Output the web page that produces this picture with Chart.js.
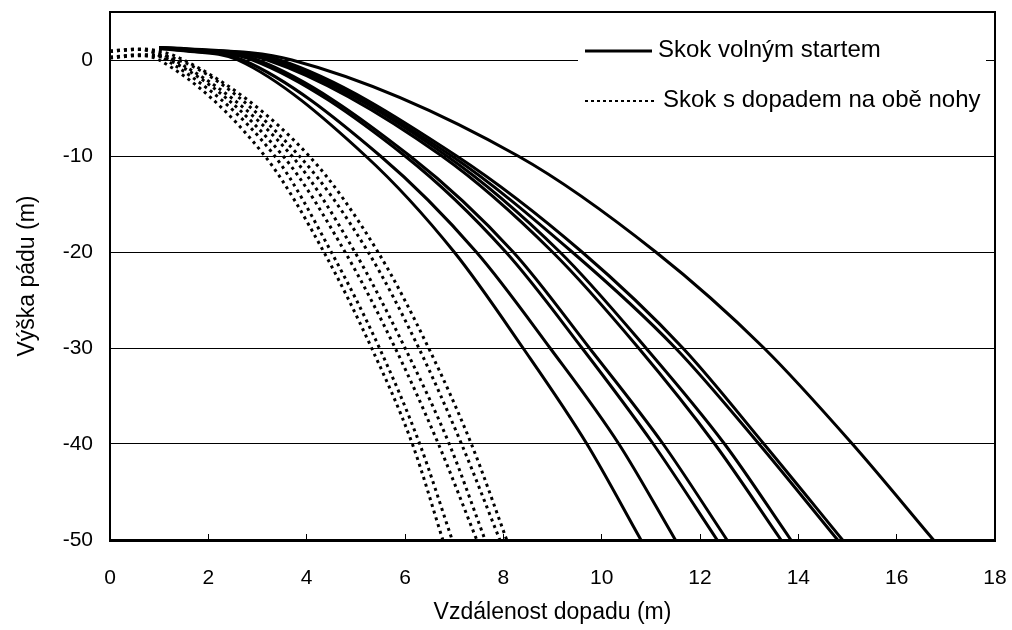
<!DOCTYPE html>
<html>
<head>
<meta charset="utf-8">
<script src="https://cdn.jsdelivr.net/npm/chart.js@4.4.0/dist/chart.umd.min.js"></script>
<style>
  html, body { margin: 0; padding: 0; background: #fff; }
  #wrap { width: 1012px; height: 630px; }
</style>
</head>
<body>
<div id="wrap"><canvas id="jumpChart"></canvas></div>
<script>
// hloubky, pro ktere jsou odectene vzdalenosti (m)
const depthLevels = [0, -10, -20, -30, -40, -50];

// Skok volnym startem - zacatek krivky (x, y) a dva body na vrcholu
const freeTopX = [1.0, 1.5];
const freeTopY = [
  [1.2, 0.95], [1.2, 1.0], [1.25, 1.05], [1.25, 1.05], [1.25, 1.1],
  [1.25, 1.1], [1.3, 1.15], [1.3, 1.15], [1.3, 1.2]
];
// vzdalenost dopadu v jednotlivych hloubkach
const freeX = [
  [2.6, 5.2, 7.0, 8.4, 9.7, 10.8],
  [2.7, 5.5, 7.45, 8.95, 10.35, 11.5],
  [2.9, 6.0, 8.05, 9.6, 11.05, 12.35],
  [3.0, 6.1, 8.2, 9.75, 11.25, 12.55],
  [3.2, 6.75, 9.0, 10.75, 12.3, 13.65],
  [3.3, 6.85, 9.15, 10.9, 12.5, 13.85],
  [3.35, 6.95, 9.4, 11.5, 13.2, 14.8],
  [3.45, 7.05, 9.6, 11.65, 13.3, 14.9],
  [3.7, 8.3, 11.1, 13.3, 15.1, 16.75]
];

// Skok s dopadem na obe nohy
const bothTopX = [0, 0.6];
const bothTopY = [
  [0.2, 0.45], [0.9, 1.1], [0.25, 0.5], [0.9, 1.1], [0.3, 0.55], [0.95, 1.15]
];
const bothX = [
  [1.0, 3.15, 4.35, 5.32, 6.15, 6.77],
  [1.15, 3.35, 4.5, 5.48, 6.3, 6.96],
  [1.2, 3.52, 4.78, 5.8, 6.68, 7.46],
  [1.3, 3.7, 4.98, 6.0, 6.9, 7.63],
  [1.4, 3.85, 5.25, 6.28, 7.15, 7.93],
  [1.5, 4.05, 5.45, 6.48, 7.35, 8.07]
];

const xTicks = [0, 2, 4, 6, 8, 10, 12, 14, 16, 18];
const yTicks = [-50, -40, -30, -20, -10, 0];

const legendSolid = 'Skok volným startem';
const legendDotted = 'Skok s dopadem na obě nohy';

function buildCurve(topX, topY, xs) {
  const pts = topX.map((x, i) => ({ x: x, y: topY[i] }));
  depthLevels.forEach((d, i) => pts.push({ x: xs[i], y: d }));
  return pts;
}

const datasets = [];
freeX.forEach((xs, i) => {
  datasets.push({
    label: legendSolid,
    data: buildCurve(freeTopX, freeTopY[i], xs),
    showLine: true,
    borderColor: '#000',
    borderWidth: 3,
    pointRadius: 0,
    cubicInterpolationMode: 'monotone'
  });
});
bothX.forEach((xs, i) => {
  datasets.push({
    label: legendDotted,
    data: buildCurve(bothTopX, bothTopY[i], xs),
    showLine: true,
    borderColor: '#000',
    borderWidth: 3,
    borderDash: [3, 4],
    pointRadius: 0,
    cubicInterpolationMode: 'monotone'
  });
});

// ramecek kolem grafu + legenda s bilym pozadim
const framePlugin = {
  id: 'frame',
  afterDatasetsDraw(chart) {
    const { ctx, chartArea: a } = chart;
    ctx.save();
    // legenda
    ctx.fillStyle = '#fff';
    ctx.fillRect(578, 24, 408, 100);
    ctx.strokeStyle = '#000';
    ctx.lineWidth = 3;
    ctx.beginPath();
    ctx.moveTo(585, 51);
    ctx.lineTo(652, 51);
    ctx.stroke();
    ctx.lineWidth = 2;
    ctx.setLineDash([3, 3]);
    ctx.beginPath();
    ctx.moveTo(585, 101);
    ctx.lineTo(657, 101);
    ctx.stroke();
    ctx.setLineDash([]);
    ctx.fillStyle = '#000';
    ctx.font = '24px "Liberation Sans", Arial, sans-serif';
    ctx.textBaseline = 'middle';
    ctx.fillText(legendSolid, 658, 50);
    ctx.fillText(legendDotted, 663, 100);

    ctx.strokeStyle = '#000';
    ctx.lineWidth = 2;
    ctx.beginPath();
    ctx.moveTo(a.left, a.top);
    ctx.lineTo(a.right, a.top);
    ctx.lineTo(a.right, a.bottom);
    ctx.stroke();
    ctx.restore();
  }
};

const tickFont = { family: '"Liberation Sans", Arial, sans-serif', size: 21 };
const titleFont = { family: '"Liberation Sans", Arial, sans-serif', size: 23 };

new Chart(document.getElementById('jumpChart').getContext('2d'), {
  type: 'scatter',
  data: { datasets: datasets },
  options: {
    responsive: true,
    maintainAspectRatio: false,
    animation: false,
    layout: { padding: { top: 12, right: 17, left: 0, bottom: 0 } },
    plugins: {
      legend: { display: false },
      tooltip: { enabled: false }
    },
    scales: {
      x: {
        type: 'linear',
        min: 0,
        max: 18,
        afterBuildTicks: (axis) => { axis.ticks = xTicks.map(v => ({ value: v })); },
        afterFit: (scale) => {
          scale.height = 90;
          scale.paddingLeft = 0;
          scale.paddingRight = 0;
        },
        ticks: { color: '#000', font: tickFont, padding: 32, maxRotation: 0 },
        grid: { drawOnChartArea: false, tickLength: -6, color: '#000', lineWidth: 1 },
        border: { color: '#000', width: 3 },
        title: {
          display: true,
          text: 'Vzdálenost dopadu (m)',
          color: '#000',
          font: titleFont,
          padding: { top: 0, bottom: 4 }
        }
      },
      y: {
        type: 'linear',
        min: -50,
        max: 5,
        afterBuildTicks: (axis) => { axis.ticks = yTicks.map(v => ({ value: v })); },
        afterFit: (scale) => {
          scale.width = 110;
          scale.paddingTop = 0;
          scale.paddingBottom = 0;
        },
        ticks: { color: '#000', font: tickFont, padding: 17 },
        grid: { color: '#000', lineWidth: 1, drawTicks: false },
        border: { color: '#000', width: 2 },
        title: {
          display: true,
          text: 'Výška pádu (m)',
          color: '#000',
          font: titleFont,
          padding: { top: 14, bottom: 0 }
        }
      }
    }
  },
  plugins: [framePlugin]
});
</script>
</body>
</html>
